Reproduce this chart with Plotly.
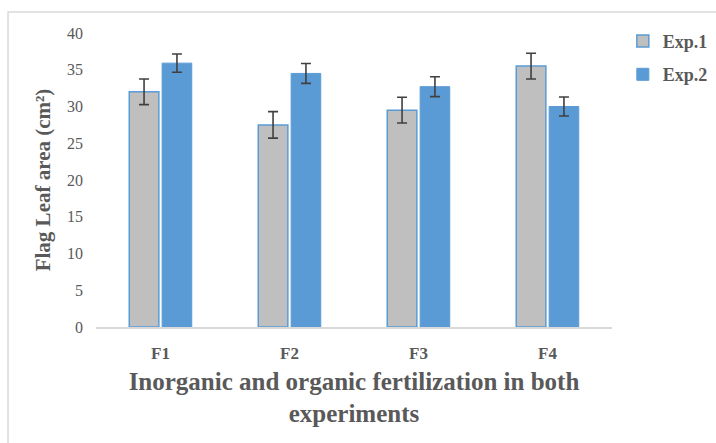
import plotly.graph_objects as go

categories = ["F1", "F2", "F3", "F4"]
exp1 = [32.0, 27.5, 29.5, 35.5]
exp1_err = [1.75, 1.8, 1.75, 1.75]
exp2 = [35.9, 34.5, 32.7, 30.0]
exp2_err = [1.25, 1.35, 1.35, 1.3]

FONT = "'Liberation Serif', 'Times New Roman', 'DejaVu Serif', serif"
TXT = "#595959"

fig = go.Figure()
fig.add_trace(go.Bar(
    x=categories, y=exp1, name="Exp.1", legendgroup="a",
    marker=dict(color="#bfbfbf", line=dict(color="#5b9bd5", width=1.5)),
    error_y=dict(type="data", array=exp1_err, color="#404040", thickness=1.6, width=5),
))
fig.add_trace(go.Bar(
    x=categories, y=exp2, name="Exp.2", legendgroup="b",
    marker=dict(color="#5b9bd5", line=dict(color="#5b9bd5", width=1)),
    error_y=dict(type="data", array=exp2_err, color="#404040", thickness=1.6, width=5),
))

fig.update_layout(
    width=716, height=443,
    margin=dict(l=96, r=104, t=33, b=116, autoexpand=False),
    paper_bgcolor="white", plot_bgcolor="white",
    bargap=0.49, bargroupgap=0.1,
    font=dict(family=FONT, color=TXT),
    legend=dict(x=1.021, y=1.035, xanchor="left", yanchor="top",
                font=dict(family=FONT, size=18, color=TXT, weight="bold"),
                traceorder="grouped", tracegroupgap=7,
                bgcolor="rgba(0,0,0,0)"),
    xaxis=dict(
        showline=True, linecolor="#d9d9d9", linewidth=1.5,
        ticks="", showgrid=False, automargin=False,
        tickfont=dict(family=FONT, size=17, color=TXT, weight="bold"),
        ticklabelstandoff=10,
        title=dict(text="Inorganic and organic fertilization in both<br>experiments",
                   font=dict(family=FONT, size=25, color=TXT, weight="bold"),
                   standoff=10),
    ),
    yaxis=dict(
        range=[0, 40], dtick=5, showgrid=False, zeroline=False,
        ticks="", showline=False, automargin=False,
        tickfont=dict(family=FONT, size=16, color=TXT),
        ticklabelstandoff=12,
        title=dict(text="Flag Leaf area (cm²)",
                   font=dict(family=FONT, size=21, color=TXT, weight="bold"),
                   standoff=10),
    ),
    shapes=[dict(type="rect", xref="paper", yref="paper",
                 x0=-0.1705, x1=2, y0=-2, y1=1.0714,
                 line=dict(color="#d9d9d9", width=1.5), fillcolor="rgba(0,0,0,0)", layer="below")],
)

fig.write_html("out.html")
